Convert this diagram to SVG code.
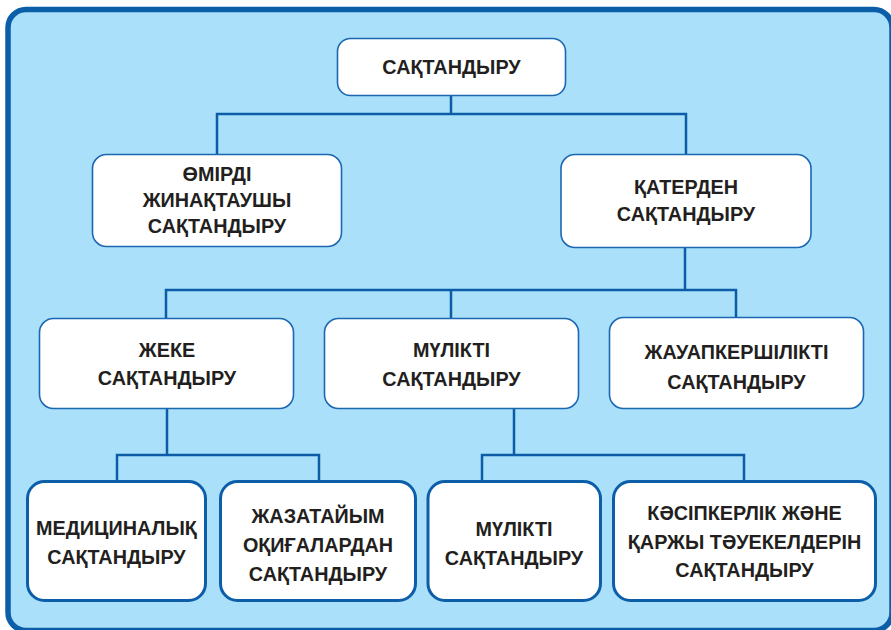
<svg xmlns="http://www.w3.org/2000/svg" width="891" height="630" viewBox="0 0 891 630">
<style>
.bx{fill:#ffffff;stroke:#1b67b2;stroke-width:1.6}
.bx3{fill:#ffffff;stroke:#0d5ea9;stroke-width:3}
.ln{fill:none;stroke:#0c5ca8;stroke-width:2.5}
text{font-family:"Liberation Sans",Arial,sans-serif;font-weight:bold;font-size:19.8px;fill:#231f20;text-anchor:middle}
</style>
<rect x="0" y="0" width="891" height="630" fill="#ffffff"/>
<rect x="8" y="9.5" width="884" height="621" rx="18" fill="#aae0fa" stroke="#0b5ea8" stroke-width="5.5"/>
<g id="connectors">
<path class="ln" d="M451,96V114M217,154V114H686V154"/>
<path class="ln" d="M685,247V290M166,318V290H736V318M451,290V318"/>
<path class="ln" d="M167,408V455M117,480V455H319V480"/>
<path class="ln" d="M514,408V455M482,480V455H744V480"/>
</g>
<g id="n1"><rect class="bx" x="337.5" y="38.5" width="228" height="57" rx="13"/><text x="451.5" y="74">САҚТАНДЫРУ</text></g>
<g id="n2"><rect class="bx" x="92.5" y="154.5" width="249" height="92" rx="14"/><text x="217" y="181">ӨМІРДІ</text><text x="217" y="207">ЖИНАҚТАУШЫ</text><text x="217" y="233">САҚТАНДЫРУ</text></g>
<g id="n3"><rect class="bx" x="561" y="154.5" width="250" height="93" rx="14"/><text x="686" y="194">ҚАТЕРДЕН</text><text x="686" y="221">САҚТАНДЫРУ</text></g>
<g id="n4"><rect class="bx" x="39.5" y="318.5" width="254" height="90" rx="14"/><text x="167" y="357">ЖЕКЕ</text><text x="167" y="385">САҚТАНДЫРУ</text></g>
<g id="n5"><rect class="bx" x="324.5" y="318.5" width="254" height="90" rx="14"/><text x="451.5" y="357">МҮЛІКТІ</text><text x="451.5" y="386">САҚТАНДЫРУ</text></g>
<g id="n6"><rect class="bx" x="609.5" y="317.5" width="254" height="91" rx="14"/><text x="736.5" y="359">ЖАУАПКЕРШІЛІКТІ</text><text x="736.5" y="389">САҚТАНДЫРУ</text></g>
<g id="n7"><rect class="bx3" x="27.5" y="481.5" width="178" height="119" rx="17"/><text x="116.5" y="535">МЕДИЦИНАЛЫҚ</text><text x="116.5" y="564">САҚТАНДЫРУ</text></g>
<g id="n8"><rect class="bx3" x="220.5" y="481.5" width="195" height="119" rx="17"/><text x="318" y="523">ЖАЗАТАЙЫМ</text><text x="318" y="552">ОҚИҒАЛАРДАН</text><text x="318" y="581">САҚТАНДЫРУ</text></g>
<g id="n9"><rect class="bx3" x="428" y="481.5" width="172.5" height="119" rx="17"/><text x="514" y="536">МҮЛІКТІ</text><text x="514" y="565">САҚТАНДЫРУ</text></g>
<g id="n10"><rect class="bx3" x="613.5" y="481.5" width="262" height="119" rx="17"/><text x="744.5" y="520">КӘСІПКЕРЛІК ЖӘНЕ</text><text x="744.5" y="548.5">ҚАРЖЫ ТӘУЕКЕЛДЕРІН</text><text x="744.5" y="577">САҚТАНДЫРУ</text></g>
</svg>
